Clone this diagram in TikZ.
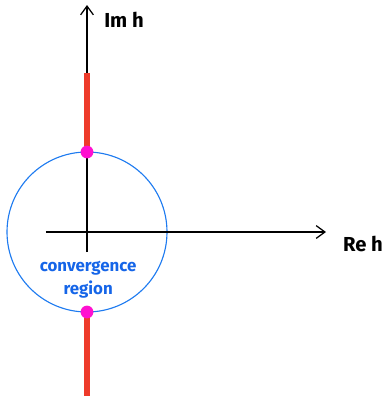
\documentclass[tikz,border=0pt]{standalone}
\usepackage{fontspec}
\setsansfont{Fira Sans}
\usetikzlibrary{arrows.meta, positioning}
\definecolor{cvblue}{HTML}{1E7BF0}
\definecolor{txblue}{HTML}{1565E8}
\definecolor{cutred}{HTML}{EE3B2A}
\definecolor{ptpink}{HTML}{FF10D0}

\begin{document}
\begin{tikzpicture}[>={Straight Barb[length=2.2mm, width=3.2mm]}, line width=0.9pt]

\useasboundingbox (-2.175,-4.15) rectangle (7.5,5.8);

% Points
\coordinate (O) at (0,0);
\coordinate (ytop) at (0,5.675);
\coordinate (ybot) at (0,-0.5);
\coordinate (xl) at (-1.025,0);
\coordinate (xr) at (5.975,0);
\coordinate (up) at (0,2);
\coordinate (dn) at (0,-2);
\coordinate (cuttop) at (0,3.975);
\coordinate (cutbot) at (0,-4.1);

% Convergence disk
\draw[cvblue, line width=0.8pt] (O) circle (2);

% --- Axes ---
\draw[->] (xl) -- (xr);
\draw[->] (ybot) -- (ytop);

% Branch cuts (on top of the axis)
\draw[cutred, line width=3.8pt] (up) -- (cuttop);
\draw[cutred, line width=3.8pt] (dn) -- (cutbot);

% Branch points
\fill[ptpink] (up) circle (0.16);
\fill[ptpink] (dn) circle (0.16);

% --- Labels ---
\node[font=\sffamily\Large\bfseries, anchor=west] (imlbl) at (0.3,5.3) {Im h};
\node[font=\sffamily\Large\bfseries] (relbl) at (6.9,-0.3) {Re h};
\node[font=\sffamily\large\bfseries, text=txblue] (cvlbl) at (0.03,-0.9) {convergence};
\node[font=\sffamily\large\bfseries, text=txblue] (rglbl) at (0.03,-1.45) {region};

\end{tikzpicture}
\end{document}
